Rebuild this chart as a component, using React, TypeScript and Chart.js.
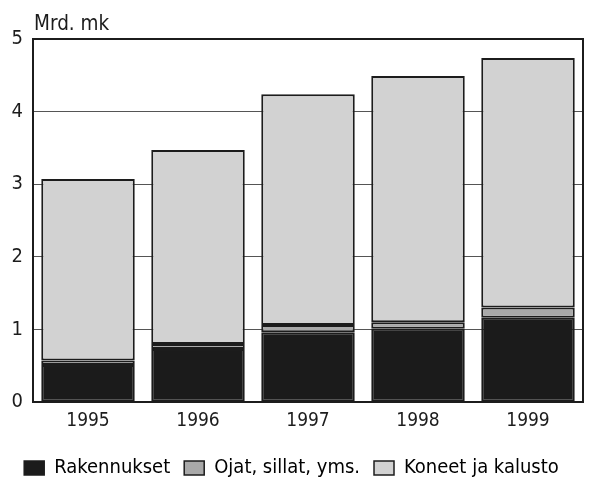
import React, { useEffect, useRef } from "react";
import { Chart, registerables } from "chart.js";

Chart.register(...registerables);

const years = ["1995", "1996", "1997", "1998", "1999"];
const rakennukset = [0.51, 0.73, 0.96, 1.01, 1.16];
const ojat = [0.06, 0.07, 0.1, 0.09, 0.14];
const koneet = [2.5, 2.67, 3.18, 3.39, 3.44];
const yTicks = [0, 1, 2, 3, 4, 5];
const unitLabel = "Mrd. mk";

const FONT = "'Liberation Sans Narrow', 'DejaVu Sans Condensed', 'Roboto Condensed', Roboto, sans-serif";
const INK = "#1c1c1c";

const framePlugin = {
  id: "frame",
  afterDatasetsDraw(chart: any) {
    const { ctx, chartArea } = chart;
    ctx.save();
    ctx.strokeStyle = INK;
    ctx.lineWidth = 2;
    ctx.strokeRect(chartArea.left, chartArea.top, chartArea.right - chartArea.left, chartArea.bottom - chartArea.top);
    ctx.restore();
  },
  afterDraw(chart: any) {
    const { ctx, chartArea } = chart;
    ctx.save();
    ctx.fillStyle = INK;
    ctx.font = `20.5px ${FONT}`;
    ctx.textBaseline = "alphabetic";
    ctx.textAlign = "left";
    ctx.fillText(unitLabel, chartArea.left + 1, chartArea.top - 9);
    ctx.restore();
  },
};

export default function App() {
  const ref = useRef<HTMLCanvasElement>(null);
  useEffect(() => {
    if (!ref.current) return;
    const chart = new Chart(ref.current, {
      type: "bar",
      data: {
        labels: years,
        datasets: [
          { label: "Rakennukset", data: rakennukset, backgroundColor: "#1b1b1b", borderColor: INK, borderWidth: 2 },
          { label: "Ojat, sillat, yms.", data: ojat, backgroundColor: "#a9a9a9", borderColor: INK, borderWidth: 2 },
          { label: "Koneet ja kalusto", data: koneet, backgroundColor: "#d2d2d2", borderColor: INK, borderWidth: 2 },
        ],
      },
      options: {
        animation: false,
        responsive: false,
        maintainAspectRatio: false,
        layout: { padding: { left: 0, right: 18, top: 39, bottom: -8 } },
        datasets: { bar: { barPercentage: 0.85, categoryPercentage: 1.0, borderSkipped: false } },
        scales: {
          x: {
            stacked: true,
            grid: { display: false, drawTicks: false },
            border: { display: false },
            ticks: { color: INK, font: { family: FONT, size: 19 }, padding: 8 },
            afterFit: (s: any) => { s.height = 42; },
          },
          y: {
            stacked: true,
            min: 0,
            max: 5,
            afterBuildTicks: (s: any) => { s.ticks = yTicks.map((v) => ({ value: v })); },
            grid: { color: "#555", lineWidth: 1, drawTicks: false },
            border: { display: false },
            ticks: { color: INK, font: { family: FONT, size: 20 }, padding: 10 },
            afterFit: (s: any) => { s.width = 33; },
          },
        },
        plugins: {
          tooltip: { enabled: false },
          legend: {
            position: "bottom",
            labels: {
              color: INK,
              font: { family: FONT, size: 20, lineHeight: 1 },
              boxWidth: 20,
              boxHeight: 14,
              padding: 14,
              generateLabels: (c: any) =>
                c.data.datasets.map((d: any, i: number) => ({
                  text: d.label,
                  fillStyle: d.backgroundColor,
                  strokeStyle: INK,
                  lineWidth: 1.5,
                  datasetIndex: i,
                  hidden: false,
                })),
            },
          },
        },
      },
      plugins: [framePlugin],
    });
    return () => chart.destroy();
  }, []);
  return (
    <div style={{ position: "fixed", left: 0, top: 0, width: 601, height: 480, background: "#fff" }}>
      <canvas ref={ref} width={601} height={480} style={{ width: 601, height: 480 }} />
    </div>
  );
}
